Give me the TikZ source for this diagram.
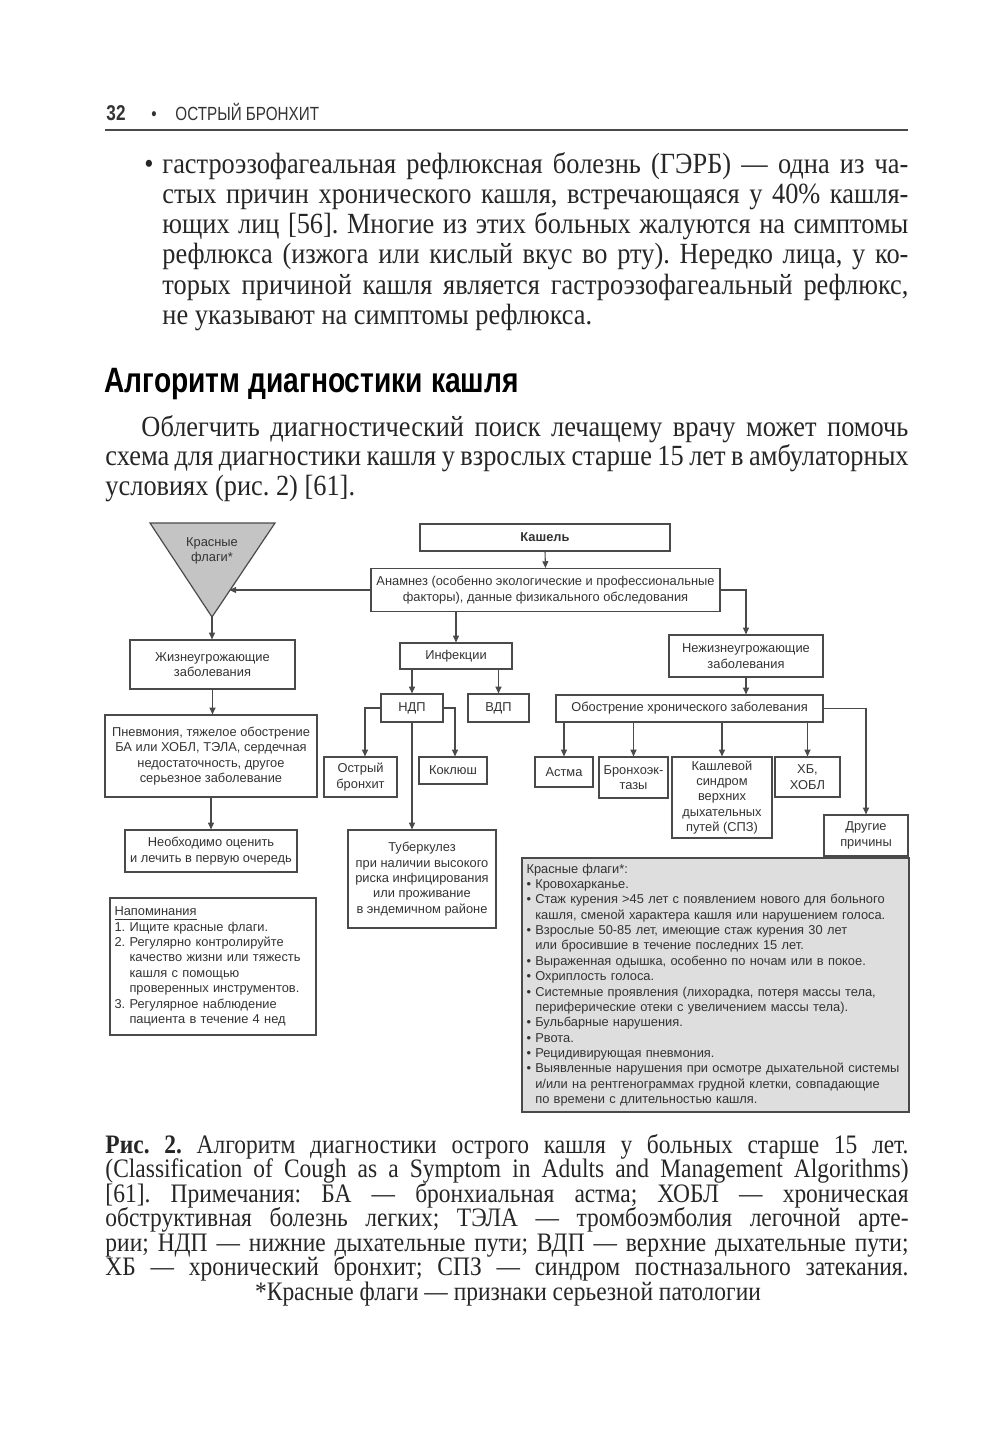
\documentclass[tikz,border=0pt]{standalone}
\usepackage{fontspec}
\setmainfont{Liberation Sans}
\newfontfamily\bodyfont[FakeStretch=0.9]{Liberation Serif}
\newfontfamily\capfont[FakeStretch=0.88]{Liberation Serif}
\newfontfamily\headfont[FakeStretch=0.8]{Liberation Sans}
\usetikzlibrary{arrows.meta,positioning,calc}
\definecolor{linegray}{HTML}{4A4A4A}
\definecolor{inkgray}{HTML}{333333}
\definecolor{flaggray}{HTML}{C4C4C4}
\definecolor{notegray}{HTML}{DEDEDE}
\frenchspacing
\tikzset{
  blk/.style={draw=linegray, line width=0.5pt, align=center, text=inkgray,
              font=\fontsize{5.4}{6.45}\selectfont, inner sep=1pt},
  sz/.style 2 args={minimum width=#1*0.42pt, minimum height=#2*0.42pt},
  flow/.style={-{Triangle[length=2.8pt,width=2.5pt]}, draw=linegray, line width=0.45pt},
  headrun/.style={anchor=base west, inner sep=0pt, text=inkgray,
                  font=\headfont\fontsize{8}{9}\selectfont},
  bodyline/.style={anchor=base west, inner sep=0pt, text=black!85,
                   font=\bodyfont\fontsize{12.3}{13}\selectfont},
  capline/.style={anchor=base west, inner sep=0pt, text=black!85,
                  font=\capfont\fontsize{11.2}{12}\selectfont},
}

\begin{document}
\frenchspacing
\begin{tikzpicture}[x=0.42pt,y=-0.42pt]
  \useasboundingbox (0,0) rectangle (1000,1433);

  \node[headrun, font=\headfont\bfseries\fontsize{9}{10}\selectfont] (pgnum) at (106,120) {32};
  \node[headrun] (pgdot) at (151,120) {•};
  \node[headrun] (pgtitle) at (175,120) {ОСТРЫЙ БРОНХИТ};
  \draw[linegray, line width=0.6pt] (105,130) -- (908,130);

  \node[bodyline] (bul) at (144,173) {•};
  \node[bodyline] (gerb1) at (162,173) {\makebox[313.3pt][s]{гастроэзофагеальная рефлюксная болезнь (ГЭРБ) — одна из ча-}};
  \node[bodyline] (gerb2) at (162,203) {\makebox[313.3pt][s]{стых причин хронического кашля, встречающаяся у 40\% кашля-}};
  \node[bodyline] (gerb3) at (162,233) {\makebox[313.3pt][s]{ющих лиц [56]. Многие из этих больных жалуются на симптомы}};
  \node[bodyline] (gerb4) at (162,263) {\makebox[313.3pt][s]{рефлюкса (изжога или кислый вкус во рту). Нередко лица, у ко-}};
  \node[bodyline] (gerb5) at (162,294) {\makebox[313.3pt][s]{торых причиной кашля является гастроэзофагеальный рефлюкс,}};
  \node[bodyline] (gerb6) at (162,324) {не указывают на симптомы рефлюкса.};

  \node[anchor=base west, inner sep=0pt, font=\headfont\bfseries\fontsize{14.8}{16}\selectfont] (title) at (104,392) {Алгоритм диагностики кашля};

  \node[bodyline] (intro1) at (141,436) {\makebox[322.1pt][s]{Облегчить диагностический поиск лечащему врачу может помочь}};
  \node[bodyline] (intro2) at (105,465) {\makebox[337.3pt][s]{схема для диагностики кашля у взрослых старше 15 лет в амбулаторных}};
  \node[bodyline] (intro3) at (105,495) {условиях (рис. 2) [61].};

  % scheme
  \coordinate (tl) at (150,523);
  \coordinate (tr) at (275,523);
  \coordinate (tb) at (212,617);
  \filldraw[fill=flaggray, draw=linegray, line width=0.5pt] (tl) -- (tr) -- (tb) -- cycle;
  \coordinate (flagin) at ($(tr)!0.723!(tb)$);
  \node[align=center, text=inkgray, font=\fontsize{5.4}{6.45}\selectfont] (flagtxt) at (212,551) {Красные\\флаги*};

  \node[blk, sz={250}{27}, font=\bfseries\fontsize{5.4}{6.45}\selectfont] (kashel) at (545,537.5) {Кашель};
  \node[blk, sz={349}{43}] (anamnez) at (545.5,590) {Анамнез (особенно экологические и профессиональные\\факторы), данные физикального обследования};
  \node[blk, sz={165}{49}] (zhizn) at (212.5,664.5) {Жизнеугрожающие\\заболевания};
  \node[blk, sz={212}{82}] (pnevm) at (211,756) {Пневмония, тяжелое обострение\\БА или ХОБЛ, ТЭЛА, сердечная\\недостаточность, другое\\серьезное заболевание};
  \node[blk, sz={172}{42}] (neobh) at (211,851) {Необходимо оценить\\и лечить в первую очередь};
  \node[blk, sz={112}{26}] (infek) at (456,656) {Инфекции};
  \node[blk, sz={62}{28}] (ndp) at (412,708) {НДП};
  \node[blk, sz={61}{28}] (vdp) at (498.5,708) {ВДП};
  \node[blk, sz={73}{40}] (ostr) at (360.5,777) {Острый\\бронхит};
  \node[blk, sz={68}{27}] (kokl) at (453,770.5) {Коклюш};
  \node[blk, sz={148}{98}] (tub) at (422,879) {Туберкулез\\при наличии высокого\\риска инфицирования\\или проживание\\в эндемичном районе};
  \node[blk, sz={154}{42}] (nezh) at (746,656) {Нежизнеугрожающие\\заболевания};
  \node[blk, sz={267}{27}] (obostr) at (689.5,708.5) {Обострение хронического заболевания};
  \node[blk, sz={58}{30}] (astma) at (564,772) {Астма};
  \node[blk, sz={69}{41}] (bronh) at (633.5,777.5) {Бронхоэк-\\тазы};
  \node[blk, sz={100}{81}] (kashl) at (722,797.5) {Кашлевой\\синдром\\верхних\\дыхательных\\путей (СПЗ)};
  \node[blk, sz={65}{40}] (hb) at (807.5,777) {ХБ,\\ХОБЛ};
  \node[blk, sz={84}{41}] (drug) at (866,835.5) {Другие\\причины};

  \node[blk, sz={387}{254}, fill=notegray, line width=0.8pt, align=left, text width=378*0.42pt] (flags) at (715.5,985) {Красные флаги*:\\
• Кровохарканье.\\
• Стаж курения >45 лет с появлением нового для больного\\
\phantom{• }кашля, сменой характера кашля или нарушением голоса.\\
• Взрослые 50-85 лет, имеющие стаж курения 30 лет\\
\phantom{• }или бросившие в течение последних 15 лет.\\
• Выраженная одышка, особенно по ночам или в покое.\\
• Охриплость голоса.\\
• Системные проявления (лихорадка, потеря массы тела,\\
\phantom{• }периферические отеки с увеличением массы тела).\\
• Бульбарные нарушения.\\
• Рвота.\\
• Рецидивирующая пневмония.\\
• Выявленные нарушения при осмотре дыхательной системы\\
\phantom{• }и/или на рентгенограммах грудной клетки, совпадающие\\
\phantom{• }по времени с длительностью кашля.};

  \node[blk, sz={206}{137}, align=left, text width=197*0.42pt] (napom) at (213,966.5) {\underline{Напоминания}\\
1. Ищите красные флаги.\\
2. Регулярно контролируйте\\
\phantom{2. }качество жизни или тяжесть\\
\phantom{2. }кашля с помощью\\
\phantom{2. }проверенных инструментов.\\
3. Регулярное наблюдение\\
\phantom{3. }пациента в течение 4 нед};

  \draw[flow] (kashel.south) -- (anamnez.north);
  \draw[flow] (anamnez.west) -- (anamnez.west -| flagin);
  \draw[flow] (tb) -- (tb |- zhizn.north);
  \draw[flow] (zhizn.south) -- (zhizn.south |- pnevm.north);
  \draw[flow] (pnevm.south) -- (pnevm.south |- neobh.north);
  \draw[flow] (infek.north |- anamnez.south) -- (infek.north);
  \draw[flow] (ndp.north |- infek.south) -- (ndp.north);
  \draw[flow] (vdp.north |- infek.south) -- (vdp.north);
  \draw[flow] (ndp.west) -| ($(ostr.north)+(4.5,0)$);
  \draw[flow] (ndp.east) -| ($(kokl.north)+(2,0)$);
  \draw[flow] (ndp.south) -- (ndp.south |- tub.north);
  \draw[flow] (anamnez.east) -| (nezh.north);
  \draw[flow] (nezh.south) -- (nezh.south |- obostr.north);
  \draw[flow] (obostr.east) -| (drug.north);
  \draw[flow] (obostr.south -| astma.north) -- (astma.north);
  \draw[flow] (obostr.south -| bronh.north) -- (bronh.north);
  \draw[flow] (obostr.south -| kashl.north) -- (kashl.north);
  \draw[flow] (obostr.south -| hb.north) -- (hb.north);

  % caption
  \node[capline] (cap1) at (105,1153) {\makebox[337.3pt][s]{\textbf{Рис. 2.} Алгоритм диагностики острого кашля у больных старше 15 лет.}};
  \node[capline] (cap2) at (105,1177) {\makebox[337.3pt][s]{(Classification of Cough as a Symptom in Adults and Management Algorithms)}};
  \node[capline] (cap3) at (105,1202) {\makebox[337.3pt][s]{[61]. Примечания: БА — бронхиальная астма; ХОБЛ — хроническая}};
  \node[capline] (cap4) at (105,1226) {\makebox[337.3pt][s]{обструктивная болезнь легких; ТЭЛА — тромбоэмболия легочной арте-}};
  \node[capline] (cap5) at (105,1251) {\makebox[337.3pt][s]{рии; НДП — нижние дыхательные пути; ВДП — верхние дыхательные пути;}};
  \node[capline] (cap6) at (105,1275) {\makebox[337.3pt][s]{ХБ — хронический бронхит; СПЗ — синдром постназального затекания.}};
  \node[capline, anchor=base] (cap7) at (508,1300) {*Красные флаги — признаки серьезной патологии};
\end{tikzpicture}
\end{document}
